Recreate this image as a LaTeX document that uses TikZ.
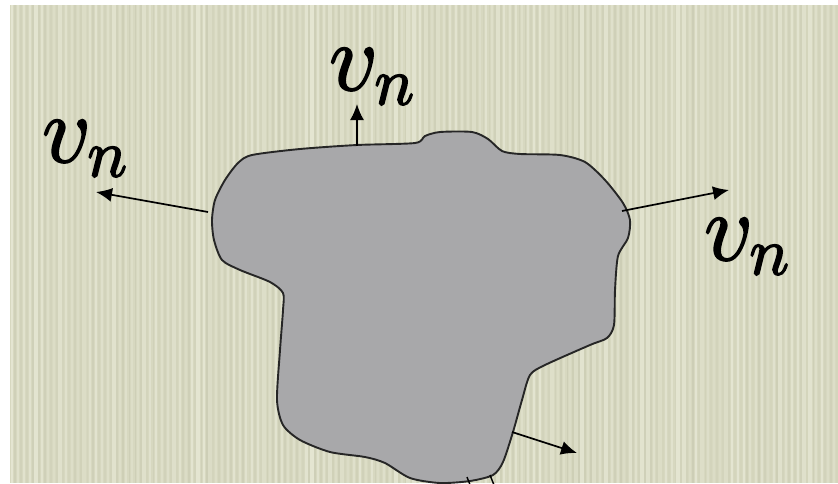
\RequirePackage{fix-cm}
\documentclass[tikz,border=0pt]{standalone}
\usetikzlibrary{arrows.meta}
\definecolor{bgbeige}{RGB}{215,216,192}
\definecolor{stripelight}{RGB}{233,234,216}
\definecolor{stripedark}{RGB}{196,197,172}
\definecolor{blobgray}{RGB}{168,168,170}
\newcommand{\thicktext}[1]{\special{pdf:code 2 Tr 1.8 w}#1\special{pdf:code 0 Tr}}
\begin{document}
\begin{tikzpicture}[x=1pt,y=-1pt,
  vec/.style={-{Latex[length=16pt,width=14pt]}, line width=1.7pt, black},
  lab/.style={inner sep=0pt, anchor=base west, font=\fontsize{96}{96}\selectfont},
  blob/.style={fill=blobgray, draw=black!85, line width=1.9pt, line join=round}]
\useasboundingbox (0,0) rectangle (838,483);
\begin{scope}
\clip (0,0) rectangle (838,483);
\fill[white] (0,0) rectangle (838,483);
\fill[bgbeige] (10,5) rectangle (838,483);
\pgfmathsetseed{11}
\foreach \i in {0,...,138} {
  \pgfmathsetmacro\w{1.2+2.5*rnd}
  \pgfmathsetmacro\o{0.25+0.5*rnd}
  \draw[stripelight, line width=\w pt, opacity=\o] (12+6*\i,5) -- (12+6*\i,483);
  \pgfmathsetmacro\v{0.8+1.6*rnd}
  \pgfmathsetmacro\p{0.15+0.35*rnd}
  \draw[stripedark, line width=\v pt, opacity=\p] (15+6*\i,5) -- (15+6*\i,483);
}
% the body
\draw[blob] plot[smooth cycle, tension=0.45] coordinates {
  (252,155) (300,149) (357,145) (415,143) (425,136) (440,132) (472,132)
  (488,139) (502,151) (520,154) (560,155) (585,162) (605,180) (623,203)
  (630,220) (628,238) (618,256) (615,290) (614,325) (607,338) (590,345)
  (545,365) (530,375) (522,400) (513,432) (503,462) (493,475) (470,481)
  (440,483) (410,478) (385,463) (365,457) (330,452) (300,440) (283,425)
  (277,400) (280,350) (283,310) (283,293) (270,282) (240,270) (222,260)
  (214,240) (212,220) (215,200) (225,180) (238,163)};
% arrow anchor points
\coordinate (ptop) at (357,146);
\coordinate (ttop) at (357,104);
\coordinate (pleft) at (208,212);
\coordinate (tleft) at (96,192);
\coordinate (pright) at (622,211);
\coordinate (tright) at (729,190);
\coordinate (pbot) at (512,432);
\coordinate (tbot) at (577,453);
\coordinate (c1a) at (467,477);
\coordinate (c1b) at (472,490);
\coordinate (c2a) at (490,475);
\coordinate (c2b) at (496,490);
\draw[vec] (ptop) -- (ttop);
\draw[vec] (pleft) -- (tleft);
\draw[vec] (pright) -- (tright);
\draw[vec] (pbot) -- (tbot);
\draw[line width=1.4pt] (c1a) -- (c1b);
\draw[line width=1.4pt] (c2a) -- (c2b);
% labels
\node[lab] (ltop) at (329,90) {\thicktext{$v_n$}};
\node[lab] (lleft) at (42,162) {\thicktext{$v_n$}};
\node[lab] (lright) at (704,260) {\thicktext{$v_n$}};
\end{scope}
\end{tikzpicture}
\end{document}
